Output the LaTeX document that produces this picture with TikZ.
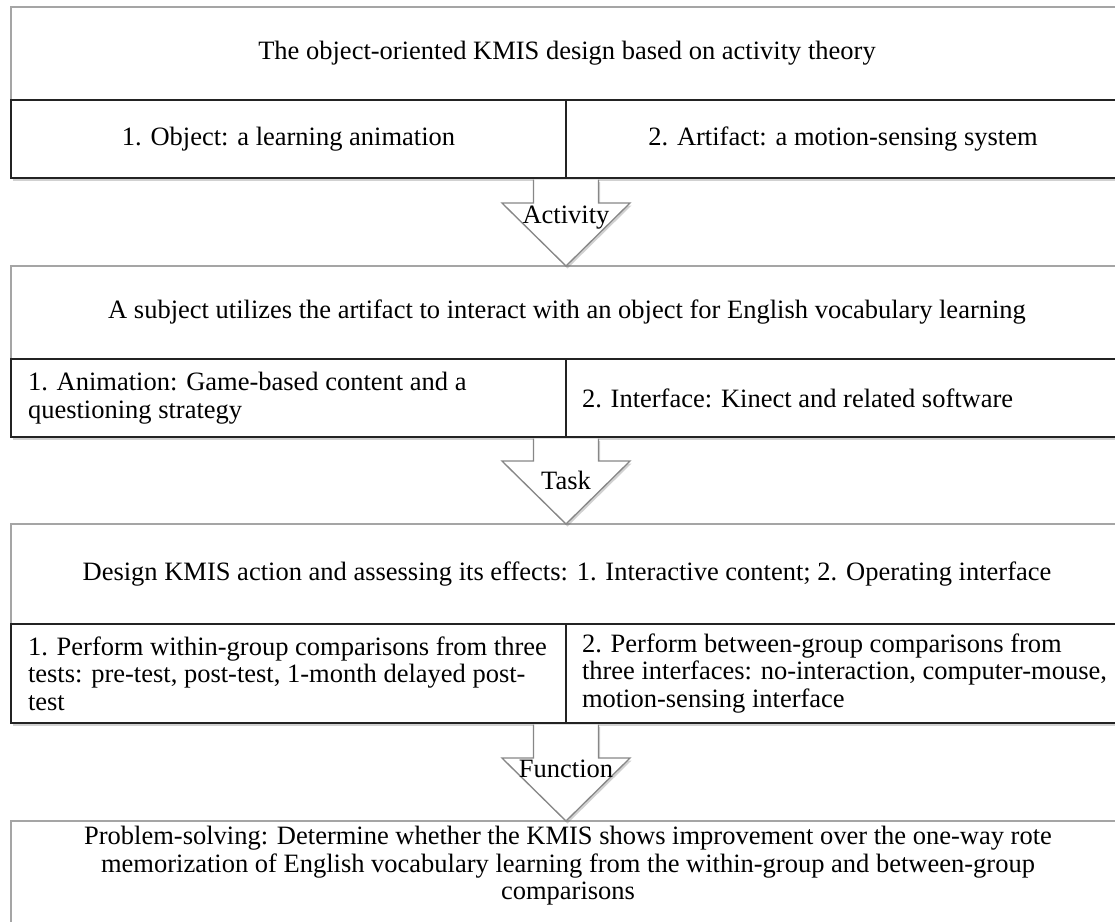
\documentclass[tikz,border=0pt]{standalone}
\usepackage{fontspec}
\setmainfont{Liberation Serif}
\usetikzlibrary{calc,shadows}
\definecolor{hdrgray}{RGB}{165,165,165}
\definecolor{cellblack}{RGB}{35,35,35}
\definecolor{arrgray}{RGB}{135,135,135}
\newcommand\blockarr[2]{%
  \draw[barrow] ($(#1)+(-32.5,1.6)$) -- ($(#2)+(-32.5,-63)$) -- ($(#2)+(-64,-63)$) -- (#2)
    -- ($(#2)+(64,-63)$) -- ($(#2)+(32.5,-63)$) -- ($(#1)+(32.5,1.6)$);}
\begin{document}
\begin{tikzpicture}[x=1pt,y=-1pt,
  txt/.style={font=\fontsize{26.5}{27.5}\selectfont, inner sep=0pt, outer sep=0pt},
  shad/.style={drop shadow={shadow xshift=1.5pt,shadow yshift=-2.5pt,opacity=0.3,fill=black!60}},
  hdr/.style={txt,shad,draw=hdrgray,line width=1.3pt,fill=white,anchor=north west,minimum width=1112pt,align=center},
  cell/.style={txt,shad,draw=cellblack,line width=2.4pt,fill=white,anchor=north west,minimum height=78pt,align=center},
  barrow/.style={draw=arrgray,line width=1.3pt,fill=white,line join=miter,shad},
  celltxt/.style={txt,anchor=west,align=left}
]
\useasboundingbox (0,0) rectangle (1115,921);

% Box 1
\node (h1) [hdr, minimum height=93pt] at (11,7) {The object-oriented KMIS design based on activity theory};
\node (c1a) [cell, minimum width=555pt] at (h1.south west) {1. Object: a learning animation};
\node (c1b) [cell, minimum width=554pt] at (c1a.north east) {2. Artifact: a motion-sensing system};

% Box 2
\node (h2) [hdr, minimum height=93pt] at ($(c1a.south west)+(0,88)$) {A subject utilizes the artifact to interact with an object for English vocabulary learning};
\node (c2a) [cell, minimum width=555pt] at (h2.south west) {};
\node (c2b) [cell, minimum width=554pt] at (c2a.north east) {};
\node (t2a) [celltxt] at ($(c2a.west)+(17,0)$) {1. Animation: Game-based content and a\\questioning strategy};
\node (t2b) [celltxt] at ($(c2b.west)+(16,0)$) {2. Interface: Kinect and related software};

% Box 3
\node (h3) [hdr, minimum height=100pt] at ($(c2a.south west)+(0,87)$) {Design KMIS action and assessing its effects: 1. Interactive content; 2. Operating interface};
\node (c3a) [cell, minimum width=555pt, minimum height=99pt] at (h3.south west) {};
\node (c3b) [cell, minimum width=554pt, minimum height=99pt] at (c3a.north east) {};
\node (t3a) [celltxt] at ($(c3a.west)+(17,0)$) {1. Perform within-group comparisons from three\\tests: pre-test, post-test, 1-month delayed post-\\test};
\node (t3b) [celltxt] at ($(c3b.west)+(16,0)$) {2. Perform between-group comparisons from\\three interfaces: no-interaction, computer-mouse,\\motion-sensing interface};

% Box 4
\node (b4) [hdr, minimum height=130pt] at ($(c3a.south west)+(0,98)$) {};
\node (t4) [txt, align=center] at ($(b4.north)+(1,45)$) {Problem-solving: Determine whether the KMIS shows improvement over the one-way rote\\memorization of English vocabulary learning from the within-group and between-group\\comparisons};

% Arrows
\coordinate (a1top) at (c1a.south east);
\coordinate (a1tip) at (h2.north -| c1a.south east);
\blockarr{a1top}{a1tip}
\node (l1) [txt] at ($(a1tip)+(0,-48)$) {Activity};

\coordinate (a2top) at (c2a.south east);
\coordinate (a2tip) at (h3.north -| c2a.south east);
\blockarr{a2top}{a2tip}
\node (l2) [txt] at ($(a2tip)+(0,-44)$) {Task};

\coordinate (a3top) at (c3a.south east);
\coordinate (a3tip) at (b4.north -| c3a.south east);
\blockarr{a3top}{a3tip}
\node (l3) [txt] at ($(a3tip)+(0,-52)$) {Function};
\end{tikzpicture}
\end{document}
